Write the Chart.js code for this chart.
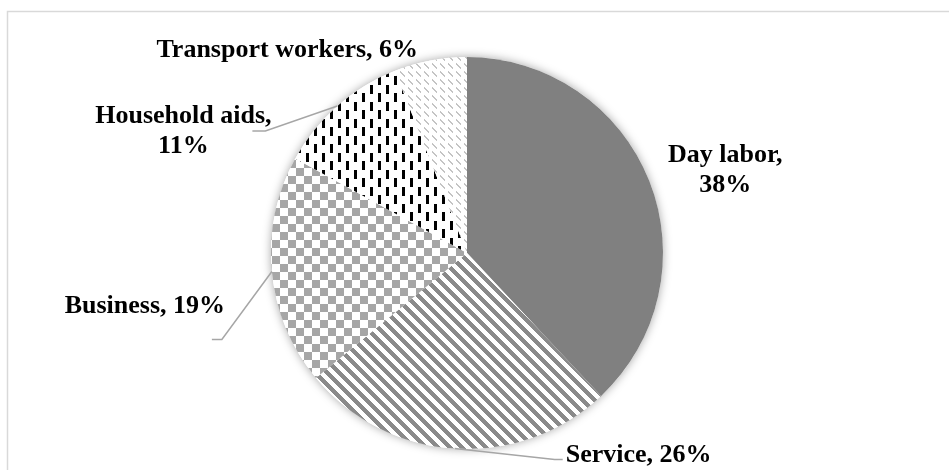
<!DOCTYPE html>
<html>
<head>
<meta charset="utf-8">
<script src="https://cdn.jsdelivr.net/npm/chart.js@4.4.0/dist/chart.umd.min.js"></script>
<style>
  html, body { margin: 0; padding: 0; background: #fff; }
  canvas { display: block; }
</style>
</head>
<body>
<canvas id="jobChart" width="949" height="470"></canvas>
<script>
// Occupation shares, percent
var categories = ['Day labor', 'Service', 'Business', 'Household aids', 'Transport workers'];
var shares = [38, 26, 19, 11, 6];

// Where each label sits, relative to the outer middle of its slice,
// and the bend points of its leader line relative to the label anchor
var labelPlace = [
    { dx: 76, dy: -19, wrap: true, leader: null },
    { dx: 184, dy: 13, wrap: false, leader: [[-84, -2], [-76, -2]] },
    { dx: -127, dy: 42, wrap: false, leader: [[77, 26], [67, 26]] },
    { dx: -154, dy: 17, wrap: true, leader: [[82, 8], [69, 8]] },
    { dx: -143, dy: -3, wrap: false, leader: null }
];

var canvas = document.getElementById('jobChart');
var ctx = canvas.getContext('2d');

// small repeating tiles for the slice fills
function makeTile(w, h, paint) {
    var c = document.createElement('canvas');
    c.width = w;
    c.height = h;
    var g = c.getContext('2d');
    g.fillStyle = '#ffffff';
    g.fillRect(0, 0, w, h);
    paint(g, w, h);
    return ctx.createPattern(c, 'repeat');
}

var stripeFill = makeTile(12, 12, function (g, w, h) {
    g.fillStyle = '#8a8a8a';
    for (var y = 0; y < h; y++) {
        for (var x = 0; x < w; x++) {
            if (((x - y) % w + w) % w < 6) g.fillRect(x, y, 1, 1);
        }
    }
});

var checkerFill = makeTile(16, 16, function (g) {
    g.fillStyle = '#a6a6a6';
    g.fillRect(0, 0, 8, 8);
    g.fillRect(8, 8, 8, 8);
});

var dashFill = makeTile(16, 17, function (g) {
    g.fillStyle = '#000000';
    g.fillRect(2, 0, 3, 9);
    g.fillRect(10, 8, 3, 9);
});

var lightFill = makeTile(8, 8, function (g, w, h) {
    g.fillStyle = '#c4c4c4';
    for (var y = 0; y < h; y++) {
        for (var x = 0; x < w; x++) {
            if (((x - y) % w + w) % w < 2 && x % 8 < 5) g.fillRect(x, y, 1, 1);
        }
    }
});

var sliceFills = ['#808080', stripeFill, checkerFill, dashFill, lightFill];

// white panel with a thin grey frame
var framePlugin = {
    id: 'frame',
    beforeDraw: function (chart) {
        var c = chart.ctx;
        c.save();
        c.fillStyle = '#ffffff';
        c.fillRect(0, 0, chart.width, chart.height);
        c.strokeStyle = '#d9d9d9';
        c.lineWidth = 1.5;
        c.strokeRect(7.5, 11.5, chart.width + 10, chart.height + 10);
        c.restore();
    }
};

// soft shadow behind the whole pie
var shadowPlugin = {
    id: 'pieShadow',
    beforeDatasetsDraw: function (chart) {
        var arc = chart.getDatasetMeta(0).data[0];
        var c = chart.ctx;
        c.save();
        c.beginPath();
        c.arc(arc.x, arc.y, arc.outerRadius, 0, Math.PI * 2);
        c.shadowColor = 'rgba(0,0,0,0.35)';
        c.shadowBlur = 10;
        c.fillStyle = '#ffffff';
        c.fill();
        c.restore();
    }
};

// category labels with leader lines
var labelPlugin = {
    id: 'sliceLabels',
    afterDatasetsDraw: function (chart) {
        var c = chart.ctx;
        var arcs = chart.getDatasetMeta(0).data;
        c.save();
        c.font = 'bold 26px "Liberation Serif", "Times New Roman", serif';
        c.textAlign = 'center';
        c.textBaseline = 'alphabetic';
        arcs.forEach(function (arc, i) {
            var mid = (arc.startAngle + arc.endAngle) / 2;
            var ex = arc.x + Math.cos(mid) * arc.outerRadius;
            var ey = arc.y + Math.sin(mid) * arc.outerRadius;
            var p = labelPlace[i];
            var lx = ex + p.dx;
            var ly = ey + p.dy;

            if (p.leader) {
                c.strokeStyle = '#a6a6a6';
                c.lineWidth = 1.5;
                c.beginPath();
                c.moveTo(ex, ey);
                p.leader.forEach(function (pt) {
                    c.lineTo(lx + pt[0], ly + pt[1]);
                });
                c.stroke();
            }

            var lines = p.wrap
                ? [categories[i] + ',', shares[i] + '%']
                : [categories[i] + ', ' + shares[i] + '%'];
            c.fillStyle = '#000000';
            lines.forEach(function (t, k) {
                c.fillText(t, lx, ly + k * 30);
            });
        });
        c.restore();
    }
};

new Chart(ctx, {
    type: 'pie',
    data: {
        labels: categories,
        datasets: [{
            data: shares,
            backgroundColor: sliceFills,
            borderWidth: 0,
            hoverOffset: 0,
            offset: 0
        }]
    },
    options: {
        responsive: false,
        devicePixelRatio: 1,
        animation: false,
        radius: 196,
        layout: {
            padding: { left: 271, right: 286, top: 57, bottom: 21 }
        },
        plugins: {
            legend: { display: false },
            tooltip: { enabled: false }
        },
        events: []
    },
    plugins: [framePlugin, shadowPlugin, labelPlugin]
});
</script>
</body>
</html>
